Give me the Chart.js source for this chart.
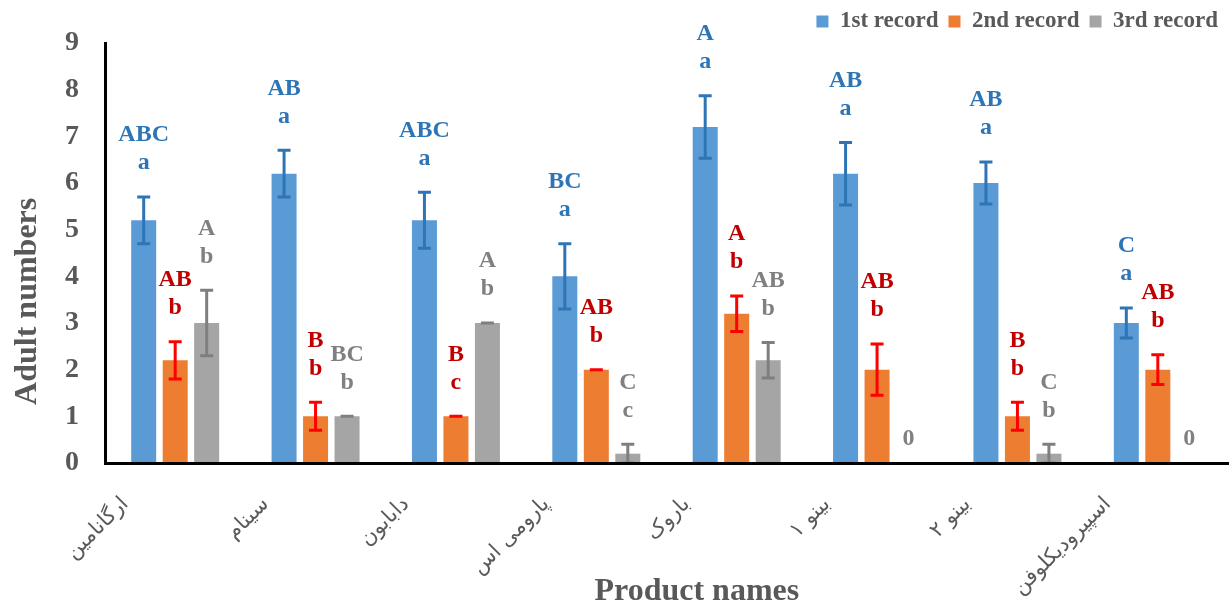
<!DOCTYPE html>
<html><head><meta charset="utf-8">
<style>html,body{margin:0;padding:0;background:#fff}#wrap{width:1230px;height:606px;position:relative}</style>
<script src="https://cdn.jsdelivr.net/npm/chart.js@4.4.1/dist/chart.umd.min.js"></script>
</head><body><div id="wrap"><canvas id="c"></canvas></div>
<script>
const categories = ["ارگانامین", "سینام", "دابابون", "پارومی اس", "باروک", "بینو ۱", "بینو ۲", "اسپیرودیکلوفن"];
const seriesNames = ["1st record", "2nd record", "3rd record"];
const record1 = [5.2, 6.2, 5.2, 4.0, 7.2, 6.2, 6.0, 3.0];
const record2 = [2.2, 1.0, 1.0, 2.0, 3.2, 2.0, 1.0, 2.0];
const record3 = [3.0, 1.0, 3.0, 0.2, 2.2, 0, 0.2, 0];
const err1 = [0.5, 0.5, 0.6, 0.7, 0.67, 0.67, 0.45, 0.32];
const err2 = [0.4, 0.3, 0, 0, 0.38, 0.55, 0.3, 0.32];
const err3 = [0.7, 0, 0, 0.2, 0.38, 0, 0.2, 0];
const letters1 = [["ABC","a"],["AB","a"],["ABC","a"],["BC","a"],["A","a"],["AB","a"],["AB","a"],["C","a"]];
const letters2 = [["AB","b"],["B","b"],["B","c"],["AB","b"],["A","b"],["AB","b"],["B","b"],["AB","b"]];
const letters3 = [["A","b"],["BC","b"],["A","b"],["C","c"],["AB","b"],["0"],["C","b"],["0"]];
const yTicks = [0,1,2,3,4,5,6,7,8,9];
const xTitle = "Product names";
const yTitle = "Adult numbers";

const serif = '"Liberation Serif", "Times New Roman", serif';
const grayText = '#595959';

const annotPlugin = {
  id: 'annot',
  afterDatasetsDraw(chart) {
    const ctx = chart.ctx, ys = chart.scales.y;
    chart.data.datasets.forEach((ds, di) => {
      const meta = chart.getDatasetMeta(di);
      meta.data.forEach((bar, i) => {
        const v = ds.data[i], e = ds.errors[i];
        const x = bar.x;
        const top = ys.getPixelForValue(v + e);
        const bot = ys.getPixelForValue(Math.max(0, v - e));
        ctx.save();
        if (v > 0) {
          ctx.strokeStyle = ds.errColor;
          ctx.lineWidth = 3;
          ctx.beginPath();
          ctx.moveTo(x, top); ctx.lineTo(x, bot);
          ctx.moveTo(x - 6.5, top); ctx.lineTo(x + 6.5, top);
          ctx.moveTo(x - 6.5, bot); ctx.lineTo(x + 6.5, bot);
          ctx.stroke();
        }
        const lines = ds.letters[i];
        ctx.font = 'bold 24px ' + serif;
        ctx.fillStyle = ds.letterColor;
        ctx.textAlign = 'center';
        ctx.textBaseline = 'middle';
        if (lines.length === 1) {
          ctx.fillText(lines[0], x, ys.getPixelForValue(0) - 24);
        } else {
          const lower = top - 34;
          ctx.fillText(lines[1], x, lower);
          ctx.fillText(lines[0], x, lower - 28);
        }
        ctx.restore();
      });
    });
  }
};

const titlePlugin = {
  id: 'axisTitles',
  afterDraw(chart) {
    const ctx = chart.ctx, ca = chart.chartArea;
    ctx.save();
    ctx.fillStyle = grayText;
    ctx.font = 'bold 32px ' + serif;
    ctx.textAlign = 'center';
    ctx.textBaseline = 'middle';
    ctx.fillText(xTitle, ca.left + (ca.right - ca.left) * 0.527, chart.height - 14);
    ctx.translate(28, ca.bottom - (ca.bottom - ca.top) * 0.385);
    ctx.rotate(-Math.PI / 2);
    ctx.fillText(yTitle, 0, 0);
    ctx.restore();
  }
};

new Chart(document.getElementById('c'), {
  type: 'bar',
  data: {
    labels: categories,
    datasets: [
      { label: seriesNames[0], data: record1, errors: err1, letters: letters1, backgroundColor: '#5B9BD5', errColor: '#2E75B6', letterColor: '#2E75B6' },
      { label: seriesNames[1], data: record2, errors: err2, letters: letters2, backgroundColor: '#ED7D31', errColor: '#FF0000', letterColor: '#C00000' },
      { label: seriesNames[2], data: record3, errors: err3, letters: letters3, backgroundColor: '#A5A5A5', errColor: '#7F7F7F', letterColor: '#808080' }
    ]
  },
  options: {
    responsive: true,
    maintainAspectRatio: false,
    animation: false,
    layout: { padding: { left: 0, right: 2, top: 0, bottom: 0 } },
    datasets: { bar: { categoryPercentage: 0.673, barPercentage: 0.794 } },
    plugins: {
      legend: {
        position: 'top', align: 'end',
        labels: { font: { family: serif, size: 23, weight: 'bold' }, color: grayText, boxWidth: 12, boxHeight: 12, padding: 10 }
      },
      tooltip: { enabled: false }
    },
    scales: {
      x: {
        grid: { display: false, drawTicks: false },
        border: { display: true, color: '#000', width: 3, z: 1 },
        ticks: { minRotation: 45, maxRotation: 45, padding: 29, labelOffset: -50, color: grayText, font: { family: '"DejaVu Sans", sans-serif', size: 21 } },
        afterFit(s) { s.height = 143; }
      },
      y: {
        min: 0, max: 9,
        afterBuildTicks(s) { s.ticks = yTicks.map(v => ({ value: v })); },
        grid: { display: false, drawTicks: false },
        border: { display: true, color: '#000', width: 3, z: 1 },
        ticks: { padding: 26, color: grayText, font: { family: serif, size: 28, weight: 'bold' } },
        afterFit(s) { s.width = 105; }
      }
    }
  },
  plugins: [annotPlugin, titlePlugin]
});
</script></body></html>
